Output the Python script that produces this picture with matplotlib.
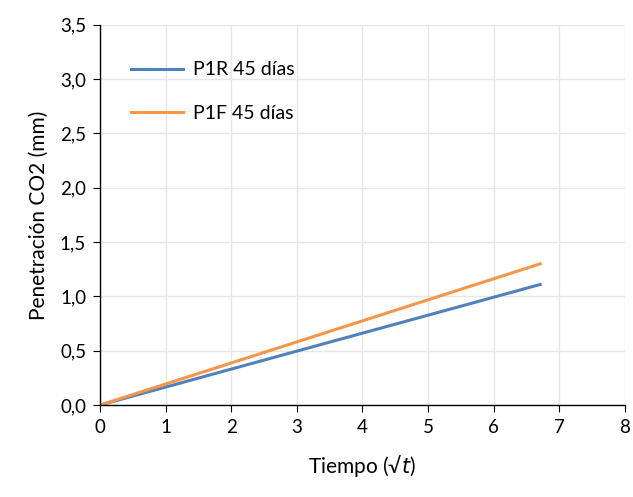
import matplotlib
matplotlib.use("Agg")
import matplotlib.pyplot as plt
from matplotlib.ticker import FuncFormatter

plt.rcParams["font.family"] = ["Lato", "DejaVu Sans"]

# raiz del tiempo (dias) y penetracion (mm)
sqrt_t = [0.0, 6.71]
p1r = [0.0, 1.11]
p1f = [0.0, 1.30]
labels = ["P1R 45 días", "P1F 45 días"]

fig = plt.figure(figsize=(6.33, 4.97), dpi=100)
ax = fig.add_axes([0.158, 0.185, 0.829, 0.765])

ax.plot(sqrt_t, p1r, color="#4F81BD", lw=2.2, label=labels[0])
ax.plot(sqrt_t, p1f, color="#F79646", lw=2.2, label=labels[1])

ax.set_xlim(0, 8)
ax.set_ylim(0, 3.5)
ax.set_xticks(range(0, 9))
ax.set_yticks([i * 0.5 for i in range(8)])
ax.yaxis.set_major_formatter(FuncFormatter(lambda v, p: f"{v:.1f}".replace(".", ",")))

ax.grid(True, color="#e6e6e6", lw=1)
ax.set_axisbelow(True)
for s in ["top", "right"]:
    ax.spines[s].set_visible(False)
for s in ["left", "bottom"]:
    ax.spines[s].set_color("black")
    ax.spines[s].set_linewidth(1)
ax.tick_params(direction="out", length=5, color="black", labelsize=13.5, pad=5)

ax.set_xlabel("Tiempo (√$t$)", fontsize=15, labelpad=12)
ax.set_ylabel("Penetración CO2 (mm)", fontsize=15, labelpad=8)

ax.legend(loc="upper left", frameon=False, fontsize=14, handlelength=2.7,
          bbox_to_anchor=(0.025, 0.95), labelspacing=1.35, handletextpad=0.5)

fig.savefig("out.png", dpi=100)
